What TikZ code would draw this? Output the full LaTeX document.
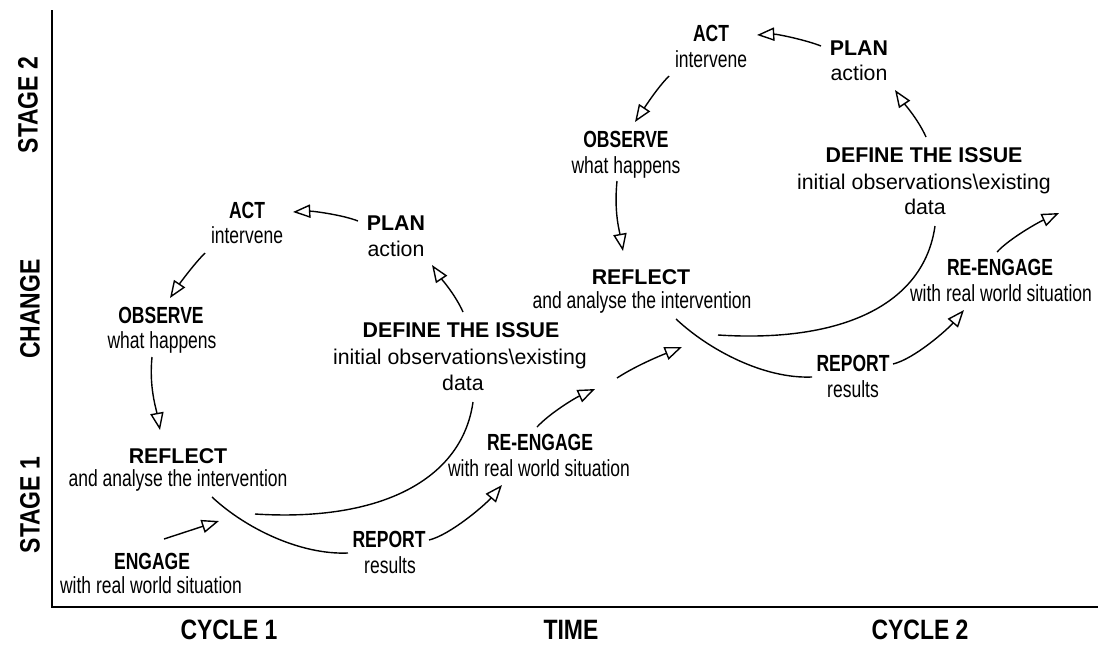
\documentclass[tikz,border=0pt]{standalone}
\usepackage{fontspec}
\setmainfont{Liberation Sans}[FakeStretch=0.82]
\newfontfamily\narrowfont{Liberation Sans}[FakeStretch=0.75]
\newfontfamily\widefont{Liberation Sans}
\usetikzlibrary{arrows.meta}
\tikzset{
  ttl/.style={font=\narrowfont\bfseries\fontsize{17.5}{20}\selectfont, inner sep=0pt, anchor=base},
  sub/.style={font=\narrowfont\fontsize{17.5}{20}\selectfont, inner sep=0pt, anchor=base},
  wttl/.style={font=\widefont\bfseries\fontsize{16}{19}\selectfont, inner sep=0pt, anchor=base},
  wsub/.style={font=\widefont\fontsize{16}{19}\selectfont, inner sep=0pt, anchor=base},
  axl/.style={font=\bfseries\fontsize{21}{25}\selectfont, inner sep=0pt},
  conn/.style={line width=1.05pt},
  arr/.style={conn, -{Triangle[open,length=13pt,width=10pt]}},
}
\begin{document}
\begin{tikzpicture}[x=0.75pt,y=-0.75pt]
\useasboundingbox (0,0) rectangle (1098,647);
% axes
\coordinate (ytop) at (52,10);
\coordinate (orig) at (52,607);
\coordinate (xend) at (1098,607);
\draw[line width=1.5pt] (ytop) -- (orig) -- (xend);
\node[axl, rotate=90] (st2) at (28,105) {STAGE 2};
\node[axl, rotate=90] (chg) at (30,309) {CHANGE};
\node[axl, rotate=90] (st1) at (30,505) {STAGE 1};
\node[axl] (cyc1) at (229,630) {CYCLE 1};
\node[axl] (time) at (571,630) {TIME};
\node[axl] (cyc2) at (920,630) {CYCLE 2};

% ---------------- cycle 1 ----------------
\node[ttl] (act1) at (247,218) {ACT};
\node[sub] (act1s) at (247,243) {intervene};
\node[wttl] (plan1) at (396,230) {PLAN};
\node[wsub] (plan1s) at (396,256) {action};
\node[ttl] (obs1) at (161,323) {OBSERVE};
\node[sub] (obs1s) at (162,348) {what happens};
\node[wttl] (def1) at (461,337) {DEFINE THE ISSUE};
\node[wsub] (def1s) at (460,364) {initial observations\textbackslash existing};
\node[wsub] (def1d) at (463,390) {data};
\node[wttl] (ref1) at (178,463) {REFLECT};
\node[sub] (ref1s) at (178,486) {and analyse the intervention};
\node[ttl] (eng1) at (152,569) {ENGAGE};
\node[sub] (eng1s) at (151,593) {with real world situation};
\node[ttl] (rep1) at (389,547) {REPORT};
\node[sub] (rep1s) at (390,573) {results};
\node[ttl] (reen1) at (540,450) {RE-ENGAGE};
\node[sub] (reen1s) at (539,476) {with real world situation};

\draw[arr] ([shift={(-38,-9)}]plan1.base) .. controls +(-15,-6) and +(20,-1) .. ([shift={(46,-6)}]act1.base);
\draw[arr] ([shift={(-42,35)}]act1.base) .. controls +(-12,12) and +(8,-12) .. ([shift={(9,-25)}]obs1.base);
\draw[arr] ([shift={(-9,34)}]obs1.base) .. controls +(-3,30) and +(-4,-22) .. ([shift={(-18,-33)}]ref1.base);
\draw[arr] ([shift={(2,-25)}]def1.base) .. controls +(-8,-18) and +(8,12) .. ([shift={(36,35)}]plan1.base);
\draw[conn] ([shift={(10,12)}]def1d.base) .. controls +(-11,78) and +(125,8) .. ([shift={(77,51)}]ref1.base);
\draw[conn] ([shift={(34,11)}]ref1s.base) .. controls +(33,31) and +(-48,2) .. ([shift={(-41,6)}]rep1.base);
\draw[arr] ([shift={(12,-30)}]eng1.base) -- ([shift={(41,58)}]ref1.base);
\draw[arr] ([shift={(40,-7)}]rep1.base) .. controls +(21,-5) and +(-17,20) .. ([shift={(-37,9)}]reen1s.base);
\coordinate (t1) at (595,389);
\draw[arr] ([shift={(-3,-23)}]reen1.base) .. controls +(13,-14) and +(-20,9) .. (t1);
\coordinate (s2) at (617,378);
\coordinate (t2) at (682,347);
\draw[arr] (s2) .. controls +(20,-13) and +(-20,8) .. (t2);

% ---------------- cycle 2 ----------------
\node[ttl] (act2) at (711,41) {ACT};
\node[sub] (act2s) at (711,67) {intervene};
\node[wttl] (plan2) at (859,55) {PLAN};
\node[wsub] (plan2s) at (859,80) {action};
\node[ttl] (obs2) at (626,147) {OBSERVE};
\node[sub] (obs2s) at (626,173) {what happens};
\node[wttl] (def2) at (924,162) {DEFINE THE ISSUE};
\node[wsub] (def2s) at (924,189) {initial observations\textbackslash existing};
\node[wsub] (def2d) at (925,214) {data};
\node[wttl] (ref2) at (641,284) {REFLECT};
\node[sub] (ref2s) at (642,308) {and analyse the intervention};
\node[ttl] (rep2) at (853,371) {REPORT};
\node[sub] (rep2s) at (853,397) {results};
\node[ttl] (reen2) at (1000,275) {RE-ENGAGE};
\node[sub] (reen2s) at (1001,301) {with real world situation};

\draw[arr] ([shift={(-38,-9)}]plan2.base) .. controls +(-15,-6) and +(20,-1) .. ([shift={(46,-6)}]act2.base);
\draw[arr] ([shift={(-42,35)}]act2.base) .. controls +(-12,12) and +(8,-12) .. ([shift={(9,-25)}]obs2.base);
\draw[arr] ([shift={(-9,34)}]obs2.base) .. controls +(-3,30) and +(-4,-22) .. ([shift={(-18,-33)}]ref2.base);
\draw[arr] ([shift={(2,-25)}]def2.base) .. controls +(-8,-18) and +(8,12) .. ([shift={(36,35)}]plan2.base);
\draw[conn] ([shift={(10,12)}]def2d.base) .. controls +(-11,78) and +(125,8) .. ([shift={(77,51)}]ref2.base);
\draw[conn] ([shift={(34,11)}]ref2s.base) .. controls +(33,31) and +(-48,2) .. ([shift={(-41,6)}]rep2.base);
\draw[arr] ([shift={(40,-7)}]rep2.base) .. controls +(21,-5) and +(-17,20) .. ([shift={(-37,9)}]reen2s.base);
\coordinate (t3) at (1059,213);
\draw[arr] ([shift={(-3,-23)}]reen2.base) .. controls +(13,-14) and +(-20,9) .. (t3);
\end{tikzpicture}
\end{document}
